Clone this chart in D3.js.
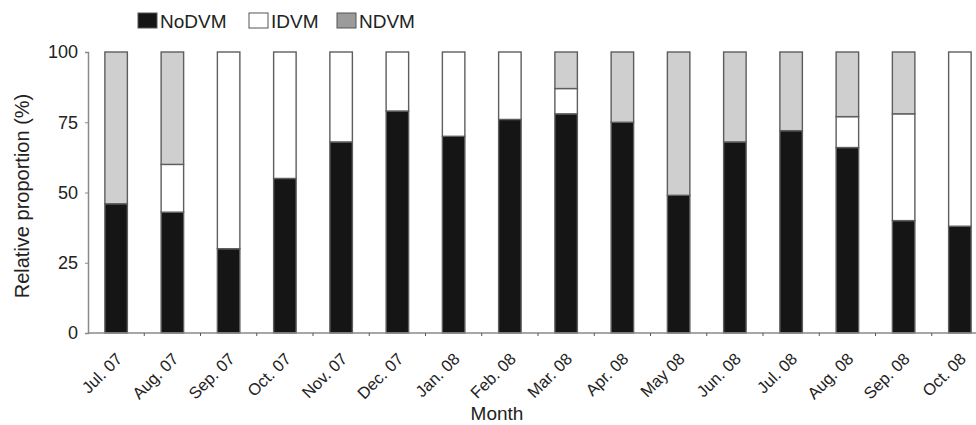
<!DOCTYPE html>
<html>
<head>
<meta charset="utf-8">
<script src="https://cdn.jsdelivr.net/npm/d3@7"></script>
<style>
  html, body { margin: 0; padding: 0; background: #fff; }
  svg { display: block; font-family: "Liberation Sans", Arial, Helvetica, sans-serif; }
</style>
</head>
<body>
<svg id="chart" width="976" height="425"></svg>
<script>
// Monthly share of each migration behaviour (%)
const months = ["Jul. 07", "Aug. 07", "Sep. 07", "Oct. 07", "Nov. 07", "Dec. 07",
                "Jan. 08", "Feb. 08", "Mar. 08", "Apr. 08", "May 08", "Jun. 08",
                "Jul. 08", "Aug. 08", "Sep. 08", "Oct. 08"];
const noDVM = [46, 43, 30, 55, 68, 79, 70, 76, 78, 75, 49, 68, 72, 66, 40, 38];
const iDVM  = [ 0, 17, 70, 45, 32, 21, 30, 24,  9,  0,  0,  0,  0, 11, 38, 62];
const nDVM  = [54, 40,  0,  0,  0,  0,  0,  0, 13, 25, 51, 32, 28, 23, 22,  0];
const seriesNames = ["NoDVM", "IDVM", "NDVM"];
const yTicks = [0, 25, 50, 75, 100];

const barFill    = { NoDVM: "#151515", IDVM: "#ffffff", NDVM: "#cfcfcf" };
const legendFill = { NoDVM: "#151515", IDVM: "#ffffff", NDVM: "#9b9b9b" };

const rows = months.map((m, i) => ({ month: m, NoDVM: noDVM[i], IDVM: iDVM[i], NDVM: nDVM[i] }));
const stacked = d3.stack().keys(seriesNames)(rows);

const svg = d3.select("#chart");
const plotLeft = 88, plotRight = 988, plotTop = 52, plotBottom = 333;

const x = d3.scaleBand().domain(months).range([plotLeft, plotRight])
  .paddingInner(0.6).paddingOuter(0.3);
const y = d3.scaleLinear().domain([0, 100]).range([plotBottom, plotTop]);

// stacked bars
svg.append("g").selectAll("g")
  .data(stacked)
  .join("g")
  .attr("fill", d => barFill[d.key])
  .selectAll("rect")
  .data(d => d.filter(s => s[1] - s[0] > 0))
  .join("rect")
  .attr("x", d => x(d.data.month))
  .attr("width", x.bandwidth())
  .attr("y", d => y(d[1]))
  .attr("height", d => y(d[0]) - y(d[1]))
  .attr("stroke", "#5e5e5e")
  .attr("stroke-width", 1.4);

// left axis
const yAxis = svg.append("g")
  .attr("transform", `translate(${plotLeft},0)`)
  .call(d3.axisLeft(y).tickValues(yTicks).tickSize(3).tickPadding(7));
yAxis.select(".domain").attr("stroke", "#8a8a8a").attr("stroke-width", 1.5);
yAxis.selectAll(".tick line").attr("stroke", "#8a8a8a");
yAxis.selectAll(".tick text")
  .attr("font-size", 18).attr("fill", "#222")
  .attr("font-family", "Liberation Sans, Arial, sans-serif");

// bottom axis: line plus ticks between neighbouring bars
const gx = svg.append("g");
gx.append("line")
  .attr("x1", plotLeft).attr("x2", 976)
  .attr("y1", plotBottom).attr("y2", plotBottom)
  .attr("stroke", "#8a8a8a").attr("stroke-width", 1.5);
const gapX = d => x(d) - (x.step() - x.bandwidth()) / 2;
gx.selectAll("line.tk")
  .data(months.slice(1))
  .join("line")
  .attr("class", "tk")
  .attr("x1", gapX).attr("x2", gapX)
  .attr("y1", plotBottom).attr("y2", plotBottom + 3)
  .attr("stroke", "#555").attr("stroke-width", 1);

// month labels, slanted
gx.selectAll("text.ml")
  .data(months)
  .join("text")
  .attr("class", "ml")
  .attr("transform", d => `translate(${x(d) + x.bandwidth() / 2 + 7},${plotBottom + 27}) rotate(-45)`)
  .attr("text-anchor", "end")
  .attr("font-size", 16.5)
  .attr("fill", "#222")
  .text(d => d);

// axis titles
svg.append("text")
  .attr("transform", "translate(29,196) rotate(-90)")
  .attr("text-anchor", "middle")
  .attr("font-size", 20)
  .attr("fill", "#222")
  .text("Relative proportion (%)");

svg.append("text")
  .attr("x", 497).attr("y", 420)
  .attr("text-anchor", "middle")
  .attr("font-size", 19)
  .attr("fill", "#222")
  .text("Month");

// legend
const legendX = [138, 249, 337];
const legend = svg.append("g").selectAll("g")
  .data(seriesNames)
  .join("g")
  .attr("transform", (d, i) => `translate(${legendX[i]},13)`);
legend.append("rect")
  .attr("width", 19).attr("height", 15)
  .attr("fill", d => legendFill[d])
  .attr("stroke", "#555").attr("stroke-width", 1);
legend.append("text")
  .attr("x", 22).attr("y", 15)
  .attr("font-size", 19)
  .attr("fill", "#222")
  .text(d => d);
</script>
</body>
</html>
